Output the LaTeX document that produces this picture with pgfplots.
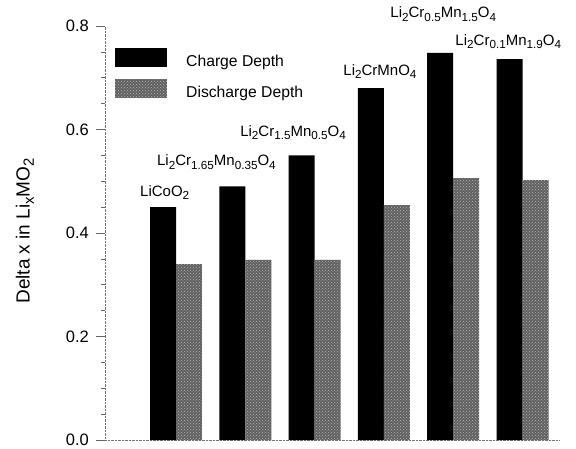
\documentclass[border=0pt]{standalone}
\usepackage{fontspec}
\setmainfont{Liberation Sans}
\usepackage{pgfplots}
\pgfplotsset{compat=1.18}
\usetikzlibrary{patterns}
\newcommand{\sub}[1]{\raisebox{-0.42ex}{\scalebox{0.78}{#1}}}
\begin{document}
\begin{tikzpicture}
\begin{axis}[
  width=455pt, height=414pt, scale only axis,
  xmin=-1.0245, xmax=5.541,
  ymin=0, ymax=0.8,
  clip=false,
  axis x line*=bottom, axis y line*=left,
  axis line style={densely dotted, black!55},
  xtick=\empty,
  ytick={0,0.2,0.4,0.6,0.8},
  minor y tick num=3,
  tick align=outside,
  major tick length=9pt, minor tick length=4pt,
  tick style={black!60, line width=0.6pt},
  /pgf/number format/assume math mode=true,
  yticklabel style={/pgf/number format/fixed, /pgf/number format/fixed zerofill, /pgf/number format/precision=1, font=\fontsize{16.5}{18}\selectfont, inner sep=0pt, xshift=-7pt},
  ylabel={Delta x in Li\sub{x}MO\sub{2}},
  ylabel style={at={(axis description cs:-0.176,0.505)}, anchor=center, font=\fontsize{19}{21}\selectfont},
  legend image code/.code={\path[#1] (0pt,-5.5pt) rectangle (52pt,13.5pt);},
  legend style={at={(0.022,0.947)}, anchor=north west, draw=none, fill=none, inner sep=0pt, nodes={inner sep=0pt}, column sep=19pt, row sep=11pt, font=\fontsize{15.7}{18}\selectfont},
  legend cell align=left,
]
\addplot[ybar, bar width=0.375, bar shift=0pt, fill=black, draw=none]
  coordinates {(-0.1875,0.450) (0.8125,0.490) (1.8125,0.550) (2.8125,0.680) (3.8125,0.748) (4.8125,0.736)};
\addlegendentry{Charge Depth}
\addplot[ybar, bar width=0.375, bar shift=0pt, fill=black!62, draw=none, postaction={pattern=crosshatch dots, pattern color=white!70!black}]
  coordinates {(0.1875,0.340) (1.1875,0.348) (2.1875,0.348) (3.1875,0.454) (4.1875,0.506) (5.1875,0.502)};
\addlegendentry{Discharge Depth}
\begin{scope}[every node/.style={anchor=base west, inner sep=0pt, font=\fontsize{15}{17}\selectfont}]
\node at (axis cs:-0.52,0.4715) {LiCoO\sub{2}};
\node at (axis cs:-0.275,0.5295) {Li\sub{2}Cr\sub{1.65}Mn\sub{0.35}O\sub{4}};
\node at (axis cs:0.925,0.587) {Li\sub{2}Cr\sub{1.5}Mn\sub{0.5}O\sub{4}};
\node at (axis cs:2.413,0.705) {Li\sub{2}CrMnO\sub{4}};
\node at (axis cs:3.092,0.8155) {Li\sub{2}Cr\sub{0.5}Mn\sub{1.5}O\sub{4}};
\node at (axis cs:4.03,0.763) {Li\sub{2}Cr\sub{0.1}Mn\sub{1.9}O\sub{4}};
\end{scope}
\pgfresetboundingbox
\path[use as bounding box] (rel axis cs:-0.23077,-0.0217) rectangle (rel axis cs:1.03516,1.0628);
\end{axis}
\end{tikzpicture}
\end{document}
